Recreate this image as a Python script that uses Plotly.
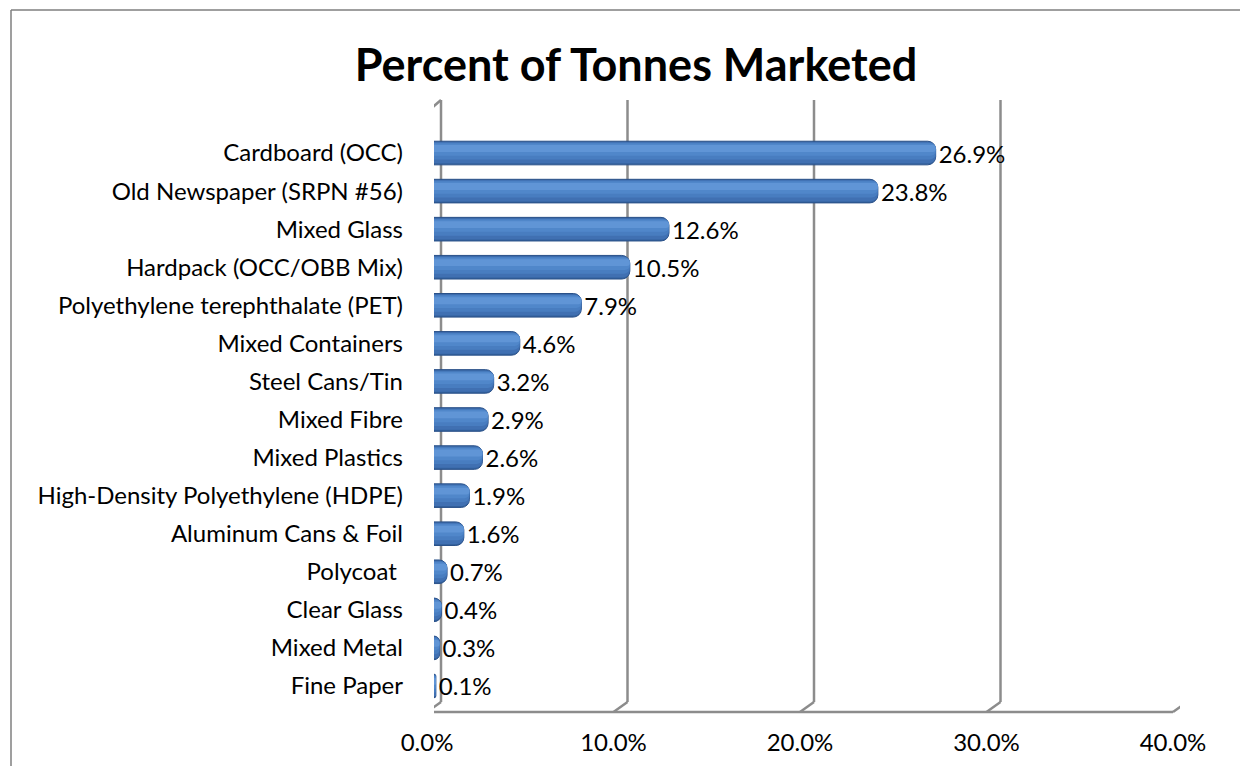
import plotly.graph_objects as go

# ---- data ----
categories = ["Cardboard (OCC)", "Old Newspaper (SRPN #56)", "Mixed Glass",
              "Hardpack (OCC/OBB Mix)", "Polyethylene terephthalate (PET)",
              "Mixed Containers", "Steel Cans/Tin", "Mixed Fibre", "Mixed Plastics",
              "High-Density Polyethylene (HDPE)", "Aluminum Cans & Foil",
              "Polycoat\u00a0", "Clear Glass", "Mixed Metal", "Fine Paper"]
values = [26.9, 23.8, 12.6, 10.5, 7.9, 4.6, 3.2, 2.9, 2.6, 1.9, 1.6, 0.7, 0.4, 0.3, 0.1]
tick_values = [0, 10, 20, 30, 40]
tick_labels = ["0.0%", "10.0%", "20.0%", "30.0%", "40.0%"]
value_labels = [f"{v:.1f}%" for v in values]

# ---- layout geometry (pixels, page has an 8px body margin) ----
OFF = 8
W, H = 1248 - 2 * OFF, 774 - 2 * OFF
ML, MT = 434 - OFF, 134 - OFF
MR = W - (1180 - OFF)
MB = H - (705 - OFF)
FONT = "Lato, 'Open Sans', sans-serif"
GRID = "#8c8c8c"

def py(p):  # reference pixel y -> paper y
    return (H - MB - (p - OFF)) / (H - MT - MB)

def px(p):  # reference pixel x -> paper x
    return ((p - OFF) - ML) / (W - ML - MR)

fig = go.Figure()

# cylinder-like bars: stacked tonal layers (bottom dark -> top light)
layers = [  # (width, offset, color, corner radius)
    (0.62, -0.31, "#33619d", 8),
    (0.56, -0.29, "#4070b2", 7),
    (0.44, -0.27, "#487dc0", 6),
    (0.32, -0.25, "#5087ca", 5),
    (0.18, -0.21, "#6095d6", 4),
]
for i, (w, off, col, cr) in enumerate(layers):
    if i == 0:
        kw = dict(text=value_labels, textposition="outside", constraintext="none",
                  textfont=dict(family=FONT, size=24, color="#000000"),
                  cliponaxis=False, hoverinfo="x+y")
    else:
        kw = dict(hoverinfo="skip")
    fig.add_trace(go.Bar(y=categories, x=values, orientation="h", width=w, offset=off,
                         marker=dict(color=col, cornerradius=cr,
                                     line=dict(color="#2a5189" if i == 0 else col,
                                               width=1 if i == 0 else 0)),
                         **kw))

shapes = []
back_dx, front_dx = 7, -7
top_back, top_front = 100, 112
bot_back, bot_front = 702, 712
line = dict(color=GRID, width=2.5)
for v in tick_values:
    shapes.append(dict(type="line", xref="x", xsizemode="pixel", xanchor=v,
                       x0=back_dx, x1=back_dx, yref="paper",
                       y0=py(top_back), y1=py(bot_back), line=line, layer="below"))
    shapes.append(dict(type="line", xref="x", xsizemode="pixel", xanchor=v,
                       x0=back_dx, x1=front_dx, yref="paper",
                       y0=py(bot_back), y1=py(bot_front), line=line, layer="below"))
# left wall front edge and top slant
shapes.append(dict(type="line", xref="x", xsizemode="pixel", xanchor=tick_values[0],
                   x0=front_dx, x1=front_dx, yref="paper",
                   y0=py(top_front), y1=py(bot_front), line=line, layer="below"))
shapes.append(dict(type="line", xref="x", xsizemode="pixel", xanchor=tick_values[0],
                   x0=front_dx, x1=back_dx, yref="paper",
                   y0=py(top_front), y1=py(top_back), line=line, layer="below"))
# floor front edge
shapes.append(dict(type="line", xref="x", xsizemode="pixel", xanchor=tick_values[0],
                   x0=front_dx, x1=front_dx + (W - ML - MR), yref="paper",
                   y0=py(bot_front), y1=py(bot_front), line=line, layer="below"))
# chart border (left and top edges)
border = dict(color="#7f7f7f", width=1.5)
shapes.append(dict(type="line", xref="paper", yref="paper",
                   x0=px(11), x1=px(11), y0=py(10), y1=py(H + OFF), line=border))
shapes.append(dict(type="line", xref="paper", yref="paper",
                   x0=px(11), x1=px(W + OFF), y0=py(10), y1=py(10), line=border))

fig.update_layout(
    width=W, height=H,
    margin=dict(l=ML, r=MR, t=MT, b=MB, autoexpand=False),
    paper_bgcolor="white", plot_bgcolor="white",
    barmode="overlay", showlegend=False,
    title=dict(text="<b>Percent of Tonnes Marketed</b>", x=(636 - OFF) / W,
               xanchor="center", y=1 - (65 - OFF) / H, yanchor="middle",
               font=dict(family=FONT, size=45, color="#000000")),
    font=dict(family=FONT, size=24, color="#000000"),
    shapes=shapes,
)
fig.update_xaxes(range=[0, 40], tickvals=tick_values, ticktext=tick_labels,
                 showgrid=False, zeroline=False, showline=False, ticks="",
                 ticklabelshift=-7, ticklabelstandoff=21, automargin=False,
                 tickfont=dict(family=FONT, size=24, color="#000000"))
fig.update_yaxes(autorange="reversed", showgrid=False, zeroline=False, showline=False,
                 ticks="", ticklabelstandoff=30, automargin=False,
                 tickfont=dict(family=FONT, size=24, color="#000000"))

fig.write_html("out.html")
